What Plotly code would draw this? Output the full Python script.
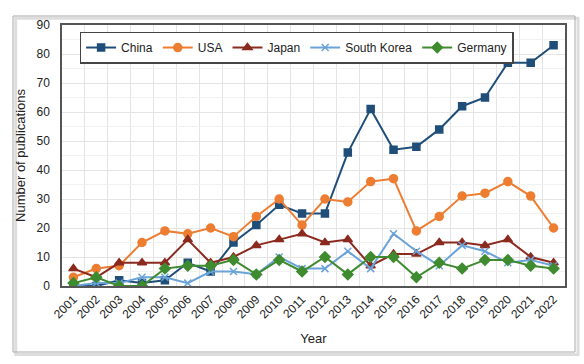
import plotly.graph_objects as go

years = list(range(2001, 2023))
china = [0, 0, 2, 1, 2, 8, 5, 15, 21, 28, 25, 25, 46, 61, 47, 48, 54, 62, 65, 77, 77, 83]
usa = [3, 6, 7, 15, 19, 18, 20, 17, 24, 30, 21, 30, 29, 36, 37, 19, 24, 31, 32, 36, 31, 20]
japan = [6, 3, 8, 8, 8, 16, 8, 10, 14, 16, 18, 15, 16, 7, 11, 11, 15, 15, 14, 16, 10, 8]
korea = [0, 1, 1, 3, 3, 1, 5, 5, 4, 10, 6, 6, 12, 6, 18, 12, 7, 14, 12, 8, 9, 7]
germany = [1, 3, 0, 0, 6, 7, 7, 9, 4, 9, 5, 10, 4, 10, 10, 3, 8, 6, 9, 9, 7, 6]
y_ticks = list(range(0, 91, 10))

series = [
    ("China", china, "#1f4e79", "square", 7),
    ("USA", usa, "#ed7d31", "circle", 8),
    ("Japan", japan, "#8b2a1e", "triangle-up", 8),
    ("South Korea", korea, "#6aa3d8", "x-thin", 7),
    ("Germany", germany, "#3f8b2f", "diamond", 8),
]

fig = go.Figure()
for name, vals, color, sym, size in series:
    fig.add_trace(go.Scatter(
        x=years, y=vals, name=name, mode="lines+markers",
        line=dict(color=color, width=2),
        marker=dict(symbol=sym, size=size, color=color,
                    line=dict(color=color, width=1.5)),
    ))

font = "Liberation Sans, Arial, sans-serif"
fig.update_layout(
    width=584, height=364,
    margin=dict(l=62, r=19, t=25, b=78),
    paper_bgcolor="white", plot_bgcolor="white",
    font=dict(family=font, size=12, color="#222"),
    showlegend=True,
    legend=dict(orientation="h", x=0.035, y=0.975, xanchor="left", yanchor="top",
                bordercolor="#444", borderwidth=1.5, bgcolor="white",
                font=dict(size=12, color="#222"), itemwidth=30,
                tracegroupgap=0),
    xaxis=dict(range=[2000.5, 2022.5], tickmode="array", tickvals=years,
               ticktext=[str(y) for y in years], tickangle=-45,
               showgrid=False, ticks="", showline=True, linecolor="#555",
               linewidth=1.5, mirror=True, zeroline=False, automargin=False,
               title=dict(text="Year", font=dict(size=13), standoff=14),
               tickfont=dict(size=12),
               minor=dict(tickmode="linear", tick0=2000.5, dtick=1,
                          showgrid=True, gridcolor="#e4e4e4", gridwidth=1)),
    yaxis=dict(range=[0, 90], tickvals=y_ticks, showgrid=True,
               gridcolor="#e4e4e4", gridwidth=1, showline=True,
               linecolor="#555", linewidth=1.5, mirror=True, zeroline=False,
               automargin=False, ticklabelstandoff=8,
               title=dict(text="Number of publications", font=dict(size=13), standoff=8),
               tickfont=dict(size=12),
               minor=dict(dtick=5, showgrid=True, gridcolor="#f1f1f1", gridwidth=1)),
)

# outer frame with shadow
fig.add_shape(type="rect", xref="paper", yref="paper",
              x0=-0.092, x1=1.026, y0=-0.262, y1=1.026,
              line=dict(color="#dddddd", width=3), layer="below")
fig.add_shape(type="rect", xref="paper", yref="paper",
              x0=-0.0974, x1=1.0199, y0=-0.2529, y1=1.0345,
              line=dict(color="#aaaaaa", width=1), fillcolor="rgba(0,0,0,0)", layer="below")

fig.write_html("out.html", config={"displayModeBar": False},
               post_script="document.body.style.margin='0';document.body.style.overflow='hidden';")
